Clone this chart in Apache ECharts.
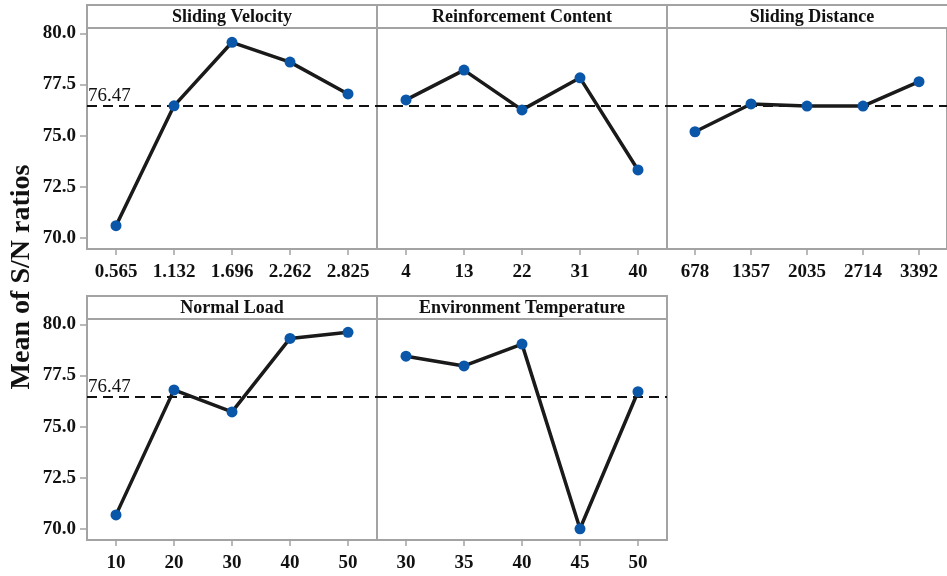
<!DOCTYPE html>
<html>
<head>
<meta charset="utf-8">
<script src="https://cdn.jsdelivr.net/npm/echarts@6/dist/echarts.min.js"></script>
<style>
  html, body { margin: 0; padding: 0; background: #fff; }
  #chart { width: 947px; height: 576px; }
</style>
</head>
<body>
<div id="chart"></div>
<script>
// main effects plot for S/N ratios
var velocityLabels = ['0.565', '1.132', '1.696', '2.262', '2.825']
var velocitySN = [70.59, 76.46, 79.57, 78.60, 77.04]
var contentLabels = ['4', '13', '22', '31', '40']
var contentSN = [76.75, 78.21, 76.26, 77.83, 73.32]
var distanceLabels = ['678', '1357', '2035', '2714', '3392']
var distanceSN = [75.19, 76.55, 76.45, 76.45, 77.64]
var loadLabels = ['10', '20', '30', '40', '50']
var loadSN = [70.68, 76.80, 75.72, 79.32, 79.62]
var tempLabels = ['30', '35', '40', '45', '50']
var tempSN = [78.45, 77.97, 79.04, 70.00, 76.71]
var yTicks = [70, 72.5, 75, 77.5, 80]
var grandMean = 76.47

var FONT = 'Liberation Serif'
var BORDER = '#a3a3a3'

var panels = [
  { title: 'Sliding Velocity', cats: velocityLabels, vals: velocitySN, col: 0, row: 0 },
  { title: 'Reinforcement Content', cats: contentLabels, vals: contentSN, col: 1, row: 0 },
  { title: 'Sliding Distance', cats: distanceLabels, vals: distanceSN, col: 2, row: 0 },
  { title: 'Normal Load', cats: loadLabels, vals: loadSN, col: 0, row: 1 },
  { title: 'Environment Temperature', cats: tempLabels, vals: tempSN, col: 1, row: 1 }
]

var colLeft = [87, 377, 667]
var rowTop = [28, 319]
var plotW = 290
var plotH = 221
var stripH = 23

var grids = [], xAxes = [], yAxes = [], series = [], graphics = []

panels.forEach(function(p, i) {
  var left = colLeft[p.col]
  var top = rowTop[p.row]
  grids.push({
    left: left, top: top, width: plotW, height: plotH,
    show: true, borderColor: BORDER, borderWidth: 2, backgroundColor: 'transparent'
  })
  xAxes.push({
    type: 'category', gridIndex: i, data: p.cats, boundaryGap: true,
    axisLine: { show: false },
    axisTick: { show: true, alignWithLabel: true, length: 6, lineStyle: { color: BORDER, width: 1.5 } },
    axisLabel: { margin: 14, color: '#111', fontFamily: FONT, fontWeight: 'bold', fontSize: 19 }
  })
  yAxes.push({
    type: 'value', gridIndex: i, min: 69.45, max: 80.27,
    splitLine: { show: false },
    axisLine: { show: false },
    axisTick: { show: p.col === 0, customValues: yTicks, length: 7, lineStyle: { color: BORDER, width: 1.5 } },
    axisLabel: {
      show: p.col === 0, customValues: yTicks, margin: 11,
      color: '#111', fontFamily: FONT, fontWeight: 'bold', fontSize: 19,
      formatter: function(v) { return v.toFixed(1) }
    }
  })
  series.push({
    type: 'line', xAxisIndex: i, yAxisIndex: i, data: p.vals,
    symbol: 'circle', symbolSize: 11,
    itemStyle: { color: '#0a56a8' },
    lineStyle: { color: '#1a1a1a', width: 3.5 },
    z: 5,
    markLine: {
      silent: true, symbol: 'none', animation: false,
      lineStyle: { color: '#111', width: 2, type: [10, 6] },
      label: {
        show: p.col === 0, position: 'insideStartTop', formatter: String(grandMean),
        color: '#111', fontFamily: FONT, fontSize: 19, distance: [1, 0]
      },
      data: [{ yAxis: grandMean }]
    }
  })
  // title strip above each panel
  graphics.push({
    type: 'rect', shape: { x: left, y: top - stripH, width: plotW, height: stripH },
    style: { fill: 'none', stroke: BORDER, lineWidth: 2 }
  })
  graphics.push({
    type: 'text', x: left + plotW / 2, y: top - stripH / 2 + 1,
    style: {
      text: p.title, align: 'center', verticalAlign: 'middle',
      font: 'bold 18px "' + FONT + '"', fill: '#111'
    }
  })
})

graphics.push({
  type: 'text', x: 22, y: 277, rotation: Math.PI / 2,
  style: {
    text: 'Mean of S/N ratios', align: 'center', verticalAlign: 'middle',
    font: 'bold 28px "' + FONT + '"', fill: '#111'
  }
})

var chart = echarts.init(document.getElementById('chart'))
chart.setOption({
  animation: false,
  backgroundColor: '#fff',
  grid: grids,
  xAxis: xAxes,
  yAxis: yAxes,
  series: series,
  graphic: graphics
})
window.addEventListener('resize', function() {
  chart.resize()
})
</script>
</body>
</html>
